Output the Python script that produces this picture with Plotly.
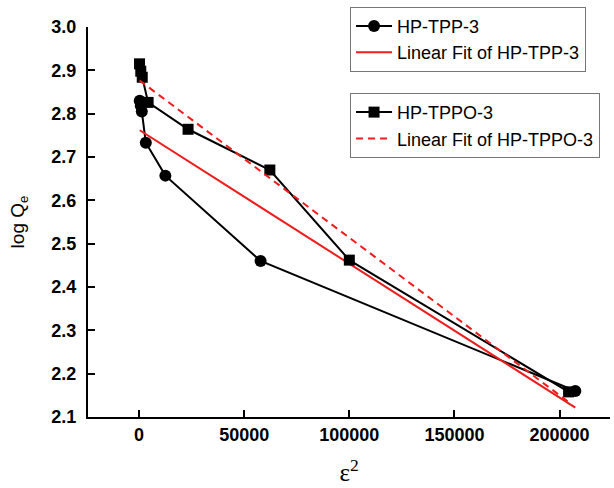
import numpy as np
import plotly.graph_objects as go

# ε² values and log Qe for the two adsorbents
tpp_eps2 = [300, 800, 1300, 3200, 12500, 57800, 207500]
tpp_logq = [2.830, 2.818, 2.805, 2.733, 2.657, 2.460, 2.160]

tppo_eps2 = [200, 800, 1500, 4300, 23300, 62200, 100000, 204300]
tppo_logq = [2.915, 2.898, 2.884, 2.826, 2.764, 2.670, 2.462, 2.158]

x_ticks = [0, 50000, 100000, 150000, 200000]
y_ticks = [2.1, 2.2, 2.3, 2.4, 2.5, 2.6, 2.7, 2.8, 2.9, 3.0]


def linear_fit(x, y):
    slope, intercept = np.polyfit(x, y, 1)
    xs = np.array([min(x), max(x)], dtype=float)
    return xs, slope * xs + intercept


tpp_fit_x, tpp_fit_y = linear_fit(tpp_eps2, tpp_logq)
tppo_fit_x, tppo_fit_y = linear_fit(tppo_eps2, tppo_logq)

fig = go.Figure()

fig.add_trace(go.Scatter(
    x=tpp_eps2, y=tpp_logq, name="HP-TPP-3", mode="lines+markers",
    line=dict(color="black", width=2),
    marker=dict(symbol="circle", size=12, color="black"),
    legend="legend",
))
fig.add_trace(go.Scatter(
    x=tpp_fit_x, y=tpp_fit_y, name="Linear Fit of HP-TPP-3", mode="lines",
    line=dict(color="#ee1c1c", width=2),
    legend="legend",
))
fig.add_trace(go.Scatter(
    x=tppo_eps2, y=tppo_logq, name="HP-TPPO-3", mode="lines+markers",
    line=dict(color="black", width=2),
    marker=dict(symbol="square", size=11, color="black"),
    legend="legend2",
))
fig.add_trace(go.Scatter(
    x=tppo_fit_x, y=tppo_fit_y, name="Linear Fit of HP-TPPO-3", mode="lines",
    line=dict(color="#ee1c1c", width=2, dash="7px,5px"),
    legend="legend2",
))

tick_font = dict(family="Liberation Sans, Arial", size=18, color="black", weight="bold")
legend_style = dict(
    xanchor="left", yanchor="top",
    bgcolor="white", bordercolor="#777777", borderwidth=1,
    font=dict(family="Liberation Sans, Arial", size=18, color="black"),
    tracegroupgap=0, itemwidth=36,
)

fig.update_layout(
    width=614, height=488,
    margin=dict(l=88, r=4, t=27, b=71),
    paper_bgcolor="white", plot_bgcolor="white",
    xaxis=dict(
        range=[-24300, 224000], tickvals=x_ticks, ticktext=[str(v) for v in x_ticks],
        showgrid=False, zeroline=False,
        showline=True, linecolor="black", linewidth=2,
        ticks="inside", ticklen=7, tickwidth=2, tickcolor="black",
        tickfont=tick_font,
        title=dict(text="ε<sup>2</sup>", standoff=20,
                   font=dict(family="Liberation Serif, Times New Roman", size=25, color="black")),
    ),
    yaxis=dict(
        range=[2.1, 3.0], tickvals=y_ticks, ticktext=[f"{v:.1f}" for v in y_ticks],
        showgrid=False, zeroline=False,
        showline=True, linecolor="black", linewidth=2,
        ticks="inside", ticklen=7, tickwidth=2, tickcolor="black",
        tickfont=tick_font, ticklabelstandoff=6,
        title=dict(text="log Q<sub>e</sub>", standoff=22,
                   font=dict(family="Liberation Sans, Arial", size=19, color="black")),
    ),
    legend=dict(x=0.502, y=1.052, **legend_style),
    legend2=dict(x=0.502, y=0.831, **legend_style),
)

fig.write_html("out.html")
